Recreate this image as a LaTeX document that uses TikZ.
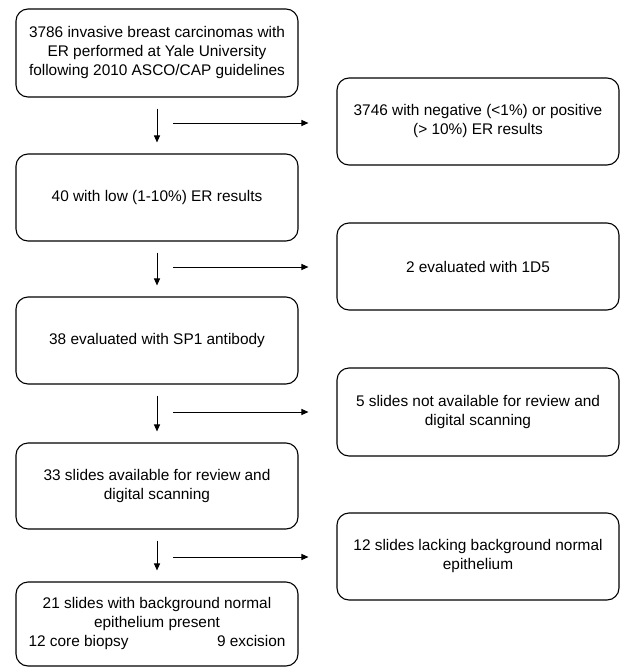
\documentclass[tikz,border=0pt]{standalone}
\usepackage{fontspec}
\setmainfont{Liberation Sans}
\usetikzlibrary{arrows.meta}
\begin{document}
\begin{tikzpicture}[x=1pt,y=-1pt,
  box/.style={draw, line width=1.1pt, rounded corners=12pt, minimum width=282pt,
    inner sep=0pt, align=center, font=\fontsize{15.4}{19}\selectfont},
  arr/.style={line width=1pt, -{Triangle[length=7pt,width=6pt]}},
  vert/.style={arr, shorten <=11pt, shorten >=11pt},
  horz/.style={arr, shorten >=28pt}]
\useasboundingbox (0,0) rectangle (623,667);
% left column
\node[box, minimum height=88pt] (b1) at (157,53) {3786 invasive breast carcinomas with\\ER performed at Yale University\\following 2010 ASCO/CAP guidelines};
\node[box, minimum height=87pt] (b2) at (157,197.5) {40 with low (1-10\%) ER results};
\node[box, minimum height=87pt] (b3) at (157,340.5) {38 evaluated with SP1 antibody};
\node[box, minimum height=86pt] (b4) at (157,486) {33 slides available for review and\\digital scanning};
\node[box, minimum height=84pt] (b5) at (157,624) {21 slides with background normal\\epithelium present\\\makebox[257pt]{12 core biopsy\hfill 9 excision}};
% right column
\node[box, minimum height=87pt] (r1) at (478,121.5) {3746 with negative (<1\%) or positive\\(> 10\%) ER results};
\node[box, minimum height=87pt] (r2) at (478,266.5) {2 evaluated with 1D5};
\node[box, minimum height=88pt] (r3) at (478,412) {5 slides not available for review and\\digital scanning};
\node[box, minimum height=87pt] (r4) at (478,556.5) {12 slides lacking background normal\\epithelium};
% vertical arrows
\draw[vert] (b1.south) -- (b2.north);
\draw[vert] (b2.south) -- (b3.north);
\draw[vert] (b3.south) -- (b4.north);
\draw[vert] (b4.south) -- (b5.north);
% horizontal arrows
\coordinate (h1) at (173,123);
\coordinate (h2) at (173,267);
\coordinate (h3) at (173,412);
\coordinate (h4) at (173,557);
\draw[horz] (h1) -- (h1 -| r1.west);
\draw[horz] (h2) -- (h2 -| r2.west);
\draw[horz] (h3) -- (h3 -| r3.west);
\draw[horz] (h4) -- (h4 -| r4.west);
\end{tikzpicture}
\end{document}
